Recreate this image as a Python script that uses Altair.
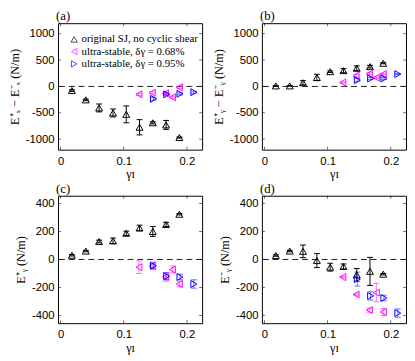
import altair as alt
import pandas as pd

# ---------------- data ----------------
series_names = ["original SJ, no cyclic shear",
                "ultra-stable, δγ = 0.68%",
                "ultra-stable, δγ = 0.95%"]
series_colors = ["#000000", "#ff00ff", "#0000ff"]
series_shapes = ["triangle-up", "triangle-left", "triangle-right"]
bar_opacity = [1.0, 0.55, 0.55]

x_black = [0.018, 0.040, 0.061, 0.083, 0.104, 0.125, 0.146, 0.167, 0.188]
x_mag = [0.124, 0.145, 0.166, 0.177, 0.188]
x_blue = [0.147, 0.168, 0.189, 0.211]

# panel (a)  E_x^+ - E_x^-
a_black = [-78, -255, -408, -503, -530, -775, -690, -730, -970]
a_black_err = [15, 15, 75, 75, 160, 145, 20, 85, 10]
a_mag = [-150, -120, -130, -205, -15]
a_mag_err = [20, 20, 20, 20, 20]
a_blue = [-235, -150, -140, -110]
a_blue_err = [25, 20, 20, 20]

# panel (b)  E_y^+ - E_y^-
b_black = [10, 10, 70, 170, 280, 300, 345, 375, 440]
b_black_err = [5, 5, 40, 60, 15, 40, 45, 25, 10]
b_mag = [75, 205, 240, 165, 235]
b_mag_err = [10, 25, 20, 15, 15]
b_blue = [120, 150, 150, 235]
b_blue_err = [30, 20, 20, 10]

# panel (c)  E_y^+
c_black = [30, 60, 128, 133, 187, 225, 200, 250, 323]
c_black_err = [5, 5, 10, 20, 15, 20, 35, 15, 5]
c_mag = [-55, -45, -125, -72, -175]
c_mag_err = [45, 15, 30, 25, 20]
c_blue = [-45, -120, -125, -175]
c_blue_err = [25, 25, 20, 30]

# panel (d)  E_y^-
d_black = [28, 60, 58, -8, -55, -50, -110, -85, -105]
d_black_err = [5, 5, 45, 50, 28, 18, 45, 100, 5]
d_mag = [-126, -250, -362, -237, -375]
d_mag_err = [5, 5, 15, 65, 25]
d_blue = [-140, -260, -275, -383]
d_blue_err = [50, 30, 20, 30]

x_domain = [-0.004, 0.224]
x_ticks = [0, 0.1, 0.2]
top_domain = [-1200, 1200]
top_ticks = [-1000, -500, 0, 500, 1000]
bot_domain = [-455, 455]
bot_ticks = [-400, -200, 0, 200, 400]

SERIF = "Liberation Serif"
SANS = "Liberation Sans"


def make_df(blk, blk_e, mag, mag_e, blu, blu_e):
    rows = []
    groups = [(x_black, blk, blk_e), (x_mag, mag, mag_e), (x_blue, blu, blu_e)]
    for i, (xs, ys, es) in enumerate(groups):
        for x, y, e in zip(xs, ys, es):
            rows.append({"x": x, "y": y, "lo": y - e, "hi": y + e,
                         "series": series_names[i],
                         "col": series_colors[i], "op": bar_opacity[i]})
    return pd.DataFrame(rows)


def panel(df, label, ydom, yticks, ytitle, width, height, show_legend):
    xs = alt.Scale(domain=x_domain, nice=False, zero=False)
    ys = alt.Scale(domain=ydom, nice=False, zero=False)
    cs = alt.Scale(domain=series_names, range=series_colors)
    ss = alt.Scale(domain=series_names, range=series_shapes)

    xax = alt.Axis(values=x_ticks, title="γɪ", labelExpr="datum.value + ''",
                   labelPadding=6, titlePadding=1, labelOverlap=False)
    yax = alt.Axis(values=yticks, title=ytitle, labelExpr="datum.value + ''",
                   labelPadding=4, titlePadding=4, labelOverlap=False)

    X = alt.X("x:Q", scale=xs, axis=xax)
    base = alt.Chart(df)
    C = alt.Color("col:N", scale=None)
    O = alt.Opacity("op:Q", scale=None)

    zero = alt.Chart(pd.DataFrame({"z": [0]})).mark_rule(
        color="black", strokeDash=[6, 4], strokeWidth=0.9
    ).encode(y=alt.Y("z:Q", scale=ys, axis=yax))

    bars = base.mark_rule(strokeWidth=1).encode(
        x=X, y=alt.Y("lo:Q", scale=ys, axis=yax), y2="hi:Q", color=C, opacity=O)
    cap_lo = base.mark_tick(orient="horizontal", size=6, thickness=1).encode(
        x=X, y=alt.Y("lo:Q", scale=ys, axis=yax), color=C, opacity=O)
    cap_hi = base.mark_tick(orient="horizontal", size=6, thickness=1).encode(
        x=X, y=alt.Y("hi:Q", scale=ys, axis=yax), color=C, opacity=O)

    if show_legend:
        leg = alt.Legend(orient="top-left", title=None, labelFont=SERIF,
                         labelFontSize=11, labelColor="black", symbolSize=42,
                         symbolStrokeWidth=1, rowPadding=0.5, offset=11,
                         padding=0, labelOffset=2)
    else:
        leg = None
    pts = base.mark_point(filled=False, size=50, strokeWidth=1, opacity=1).encode(
        x=X, y=alt.Y("y:Q", scale=ys, axis=yax),
        color=alt.Color("series:N", scale=cs, legend=leg),
        shape=alt.Shape("series:N", scale=ss, legend=leg))

    # inward frame ticks
    xt = pd.DataFrame({"t": x_ticks})
    yt = pd.DataFrame({"t": yticks})
    tb = alt.Chart(xt).mark_tick(orient="vertical", size=3, thickness=0.8,
                                 color="black", yOffset=-1.5).encode(
        x=alt.X("t:Q", scale=xs, axis=xax),
        y=alt.YDatum(ydom[0], scale=ys, axis=yax))
    tt = alt.Chart(xt).mark_tick(orient="vertical", size=3, thickness=0.8,
                                 color="black", yOffset=1.5).encode(
        x=alt.X("t:Q", scale=xs, axis=xax),
        y=alt.YDatum(ydom[1], scale=ys, axis=yax))
    tl = alt.Chart(yt).mark_tick(orient="horizontal", size=3, thickness=0.8,
                                 color="black", xOffset=1.5).encode(
        y=alt.Y("t:Q", scale=ys, axis=yax),
        x=alt.XDatum(x_domain[0], scale=xs, axis=xax))
    tr = alt.Chart(yt).mark_tick(orient="horizontal", size=3, thickness=0.8,
                                 color="black", xOffset=-1.5).encode(
        y=alt.Y("t:Q", scale=ys, axis=yax),
        x=alt.XDatum(x_domain[1], scale=xs, axis=xax))

    return alt.layer(zero, bars, cap_lo, cap_hi, pts, tb, tt, tl, tr).properties(
        width=width, height=height,
        title=alt.TitleParams(text=label, anchor="start", frame="group",
                              font=SERIF, fontSize=13, fontWeight="normal",
                              color="black", offset=0, dx=-2))


pa = panel(make_df(a_black, a_black_err, a_mag, a_mag_err, a_blue, a_blue_err),
           "(a)", top_domain, top_ticks, "E⁺ₓ − E⁻ₓ (N/m)", 147, 129, True)
pb = panel(make_df(b_black, b_black_err, b_mag, b_mag_err, b_blue, b_blue_err),
           "(b)", top_domain, top_ticks, "E⁺ᵧ − E⁻ᵧ (N/m)", 147, 129, False)
pc = panel(make_df(c_black, c_black_err, c_mag, c_mag_err, c_blue, c_blue_err),
           "(c)", bot_domain, bot_ticks, "E⁺ᵧ (N/m)", 147, 130, False)
pd_ = panel(make_df(d_black, d_black_err, d_mag, d_mag_err, d_blue, d_blue_err),
            "(d)", bot_domain, bot_ticks, "E⁻ᵧ (N/m)", 147, 130, False)

chart = alt.concat(pa, pb, pc, pd_, columns=2, spacing={"row": 47, "column": 61},
                   bounds="flush").resolve_scale(
    x="independent", y="independent", color="independent", shape="independent"
).resolve_legend(color="independent", shape="independent").properties(
    padding={"left": 0, "top": -2, "right": 0, "bottom": 0}
).configure_axis(
    labelFont=SANS, labelFontSize=11.5, labelColor="black",
    titleFont=SERIF, titleFontSize=12.5, titleColor="black",
    titleFontWeight="normal", grid=False, ticks=False, domain=False
).configure_view(stroke="black", strokeWidth=1)

chart.save("out.html", embed_options={"renderer": "svg", "actions": False})
